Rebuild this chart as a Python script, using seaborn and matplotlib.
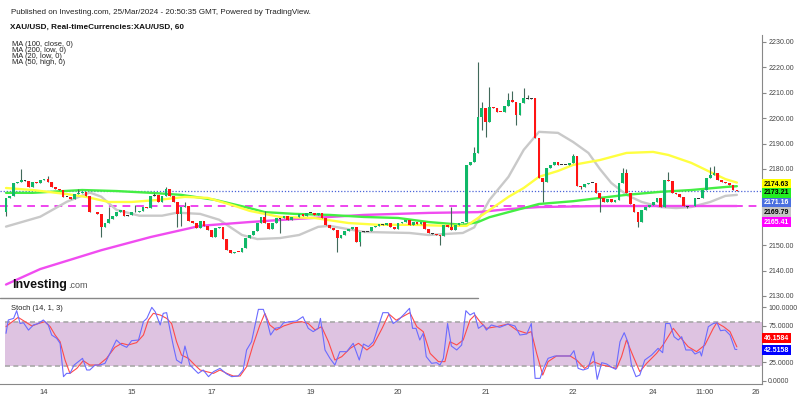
import matplotlib.pyplot as plt
import pandas as pd
import seaborn as sns

# XAU/USD hourly closes, 13-25 Mar 2024 (bar index 0..192)
closes = [
    2168.5, 2169.5, 2174.3, 2175.0, 2175.5, 2175.3, 2173.0, 2175.0, 2174.5, 2175.5,
    2176.2, 2174.8, 2173.0, 2172.0, 2171.6, 2169.1, 2169.0, 2168.0, 2170.0, 2170.5,
    2171.0, 2169.2, 2163.0, 2163.1, 2162.3, 2157.3, 2158.6, 2160.3, 2161.5, 2163.2,
    2163.8, 2161.6, 2161.7, 2163.0, 2163.1, 2163.5, 2165.0, 2164.5, 2169.5, 2169.6,
    2167.0, 2169.5, 2172.0, 2169.4, 2166.8, 2162.3, 2165.0, 2165.5, 2159.5, 2158.6,
    2156.7, 2159.6, 2157.6, 2156.0, 2153.4, 2156.7, 2157.0, 2152.3, 2148.1, 2146.8,
    2147.5, 2147.2, 2148.8, 2152.7, 2154.0, 2155.5, 2158.6, 2161.2, 2158.6, 2156.3,
    2158.9, 2160.6, 2160.5, 2161.3, 2159.8, 2161.0, 2161.2, 2162.3, 2161.4, 2162.8,
    2162.7, 2161.9, 2162.6, 2160.8, 2158.0, 2156.7, 2156.0, 2152.7, 2154.0, 2155.6,
    2156.5, 2157.3, 2151.4, 2155.3, 2155.5, 2155.4, 2157.1, 2157.5, 2158.2, 2158.1,
    2158.9, 2157.3, 2156.4, 2158.9, 2159.3, 2160.0, 2158.0, 2159.0, 2158.3, 2159.0,
    2156.3, 2154.7, 2154.5, 2154.0, 2153.6, 2158.0, 2157.3, 2156.0, 2158.0, 2158.8,
    2159.3, 2181.6, 2182.9, 2186.2, 2200.6, 2203.9, 2198.6, 2204.5, 2203.9, 2202.6,
    2202.3, 2204.8, 2207.2, 2206.5, 2201.3, 2205.9, 2207.8, 2207.7, 2207.9, 2192.1,
    2176.3, 2175.0, 2180.3, 2181.6, 2182.9, 2181.6, 2181.6, 2181.7, 2182.3, 2185.2,
    2173.3, 2172.9, 2173.9, 2174.5, 2174.6, 2170.4, 2168.5, 2166.8, 2168.1, 2167.0,
    2167.6, 2174.4, 2178.3, 2170.4, 2166.2, 2163.2, 2159.3, 2163.9, 2164.9, 2165.8,
    2167.1, 2168.4, 2165.2, 2175.7, 2175.4, 2170.4, 2170.0, 2169.1, 2165.4, 2165.3,
    2165.5, 2168.4, 2168.5, 2171.7, 2176.3, 2177.6, 2178.3, 2175.7, 2175.0, 2174.4,
    2173.5, 2171.8, 2171.16,
]
first_open = 2163.0
wick_high = {4: 2180.0, 11: 2177.3, 19: 2172.0, 27: 2165.2, 34: 2165.8, 39: 2170.5,
             42: 2173.0, 47: 2166.8, 68: 2163.5, 72: 2160.8, 117: 2165.2, 123: 2188.8,
             124: 2222.2, 125: 2206.5, 127: 2212.4, 132: 2210.0, 133: 2210.5,
             136: 2211.8, 137: 2209.0, 149: 2186.0, 162: 2180.3, 163: 2180.0,
             174: 2178.6, 185: 2180.9, 186: 2181.0}
wick_low = {0: 2161.5, 25: 2153.1, 45: 2157.3, 46: 2157.5, 72: 2154.7, 87: 2147.5,
            93: 2149.5, 114: 2150.0, 125: 2195.4, 126: 2192.7, 134: 2197.3,
            141: 2167.0, 151: 2172.0, 156: 2163.2, 166: 2157.3, 179: 2164.5}

# moving averages (yellow MA50 high, green MA100 close, gray MA20 low, magenta MA200 low)
ma50_bars = [0, 7, 16, 21, 27, 33, 40, 47, 53, 60, 64, 72, 81, 90, 98, 107, 116, 121,
             124, 132, 136, 140, 145, 149, 156, 163, 170, 174, 180, 185, 189, 192]
ma50_high = [2172.5, 2171.7, 2170.1, 2169.0, 2167.0, 2167.0, 2167.8, 2169.0, 2168.6,
             2165.5, 2163.5, 2161.1, 2160.7, 2158.7, 2158.0, 2158.0, 2157.6, 2157.6,
             2160.7, 2169.0, 2172.5, 2176.9, 2179.2, 2181.6, 2183.5, 2186.3, 2186.7,
             2185.5, 2182.4, 2178.8, 2176.0, 2174.63]
ma100_bars = [0, 7, 20, 29, 38, 46, 55, 64, 68, 76, 85, 94, 103, 111, 120, 124, 127,
              132, 140, 149, 156, 163, 172, 180, 189, 192]
ma100_close = [2170.6, 2170.6, 2171.7, 2171.3, 2170.6, 2169.8, 2167.8, 2164.6, 2163.0,
               2162.3, 2161.9, 2161.1, 2160.7, 2159.1, 2158.0, 2159.1, 2161.0, 2163.0,
               2166.2, 2167.3, 2168.6, 2169.8, 2171.0, 2171.7, 2172.9, 2173.21]
ma20_bars = [0, 9, 16, 22, 25, 29, 35, 41, 45, 51, 56, 62, 66, 72, 77, 82, 85, 88, 94,
             106, 111, 120, 123, 127, 132, 136, 140, 145, 149, 153, 156, 159, 163, 167,
             172, 176, 180, 185, 189, 192]
ma20_low = [2157.3, 2161.2, 2167.1, 2170.7, 2169.1, 2163.9, 2161.6, 2161.6, 2162.8,
            2162.3, 2160.0, 2154.0, 2152.4, 2152.8, 2154.0, 2157.2, 2157.6, 2156.8,
            2155.2, 2154.8, 2154.0, 2154.8, 2157.0, 2167.8, 2176.9, 2187.5, 2194.6,
            2194.2, 2190.6, 2186.3, 2180.0, 2174.5, 2169.8, 2167.0, 2165.0, 2164.6,
            2165.0, 2167.0, 2169.4, 2169.79]
ma200_bars = [0, 9, 25, 38, 51, 64, 76, 94, 111, 124, 132, 140, 156, 192]
ma200_low = [2134.5, 2140.6, 2148.0, 2153.2, 2157.6, 2159.1, 2160.3, 2161.9, 2162.7,
             2163.0, 2164.2, 2165.0, 2165.4, 2165.41]

last_price = 2171.16

# Stoch (14, 1, 3): %K blue, %D red
stoch_k_bars = [0, 0.6, 2, 2.8, 3.7, 4.6, 5.9, 7.2, 8.5, 9.8, 11.1, 12, 13.3, 14.2, 15.1,
                15.9, 16.8, 17.9, 19, 20.1, 21.2, 22, 23.4, 24.7, 26, 27.3, 29, 30.4, 31.7,
                33, 34.8, 36.1, 37, 38.3, 39.2, 40.5, 41.3, 42.2, 43.1, 44, 44.8, 46.1, 47,
                48.3, 49.2, 50.5, 51.8, 53.2, 54.5, 56.2, 58, 59.3, 61, 62.3, 63.2, 64.5,
                66.3, 67.6, 68.5, 69.5, 70.7, 72, 72.9, 74.6, 76.3, 78, 79.4, 80.7, 82,
                82.6, 83.8, 85.1, 86.4, 87.7, 89.5, 91.2, 92.8, 93.9, 95.2, 96.5, 97.8, 99,
                100.4, 101.7, 103.1, 104.8, 106, 106.8, 107.7, 108.7, 109.6, 110.4, 111.8,
                113.1, 114, 114.9, 116, 117, 118.4, 119.7, 120.8, 121.9, 123, 124.1, 125.4,
                126.2, 127.5, 129.7, 131.9, 133.7, 135, 136.8, 138, 139, 140.3, 141.2,
                142.4, 144.2, 146.4, 148.2, 149.2, 150.3, 151.6, 152.9, 154.3, 155.3,
                156.5, 157.8, 159.1, 160.2, 161.3, 162.4, 163.5, 164.3, 165.5, 166.5,
                167.8, 169.6, 171.3, 172.5, 173.3, 174.4, 175.5, 176.6, 177.5, 178.6,
                180.1, 181, 182.3, 182.7, 184.5, 185.8, 186.8, 187.7, 188.9, 190.2, 191.5,
                192]
stoch_k = [64.6, 82.8, 85, 95.5, 78, 79, 69, 76, 78, 82.8, 76, 62.3, 57.8, 51, 5.5,
           10, 10, 21.4, 26, 30.5, 14.6, 14.6, 21.4, 21.4, 23.7, 37.3, 55.5, 48.7, 45.5,
           54.6, 55.5, 80.5, 85, 100, 94, 76, 91.9, 92.8, 69, 46.4, 28.2, 23.7, 47.3,
           21.4, 16.8, 10, 14.6, 5.5, 12.3, 16.8, 9.1, 5.5, 6.4, 14.6, 41.9, 53.2,
           97.3, 97.3, 82.8, 62.3, 71.4, 72.8, 79, 80.5, 81.4, 87.3, 71.4, 66.9, 71.4,
           85, 41.9, 30.5, 21.4, 39.6, 39.6, 51, 28.2, 50, 46.4, 53.2, 73.7, 92.8,
           92.8, 78, 82.8, 91.9, 98.7, 71.4, 71.4, 55.5, 64.6, 32.8, 23.7,
           24.6, 21.4, 30.5, 78, 47.3, 41.9, 48.7, 95.5, 89.6, 92.8, 71.4, 76,
           69, 76, 72.8, 77.3, 74.6, 62.3, 63.7, 78, 3.2, 3.2, 16.8,
           30.5, 33.7, 33.7, 33.7, 41, 16.8, 14.6, 16.8, 39.6, 1.8,
           24.6, 22.8, 18.2, 15.5, 53.2, 65.5, 51, 21.4, 5.5, 7.7,
           28.2, 35, 44.1, 38.2, 78, 78, 60, 55.5, 60, 41.9,
           41.9, 36.4, 39.6, 33.7, 73.7, 78, 79, 68.2, 69.1, 62.3, 42.8,
           42.5158]
stoch_d_bars = [0, 1, 3.2, 5, 6.8, 8.5, 10.2, 11.6, 12.9, 14.2, 15.5, 16.8, 18.6, 20.3,
                22, 24.3, 26.4, 28.6, 30.4, 32.1, 34.3, 36.1, 37.4, 38.7, 40.5, 42.2, 43.5,
                44.8, 46.1, 47.9, 49.6, 51, 52.7, 54.5, 56.2, 58, 59.7, 61.5, 63.2, 64.9,
                66.7, 68, 69.3, 71, 72.9, 75.5, 77.7, 79.4, 81.2, 82.9, 84.7, 86.4, 88.2,
                90.4, 92.6, 94.8, 96.5, 98.8, 100.6, 102.5, 106.1, 107.9, 109.6, 111.4,
                113.6, 115.3, 116.6, 118.4, 120.1, 121.9, 123.2, 124.5, 126.2, 128.9,
                131.9, 134.1, 136.8, 138, 139.4, 141, 142.4, 144.6, 148.2, 149.9, 152,
                154.3, 156.5, 158.7, 160.4, 161.7, 163, 164.8, 166.5, 168.3, 170.9, 172.6,
                175.3, 177, 179.2, 181.4, 183.6, 185.8, 186.7, 188.5, 190.2, 192]
stoch_d = [73.7, 78, 86.4, 80.5, 74.6, 78, 80.5, 73.7, 62.3, 53.2, 28.2, 10, 16.8, 27.3,
           21.4, 21.4, 30.5, 45.5, 51, 48.7, 51.9, 62.3, 82.8, 91.9, 89.6, 85, 78,
           53.2, 35, 30.5, 21.4, 14.6, 12.3, 10, 14.6, 10, 6.4, 6.4, 19.1, 48.7,
           76, 91.9, 76, 69.1, 74.6, 79, 80.5, 78, 69.1, 73.7, 53.2, 28.2, 32.8,
           44.1, 51, 41.9, 48.7, 71.4, 91, 82.5, 92.8, 73.7, 66.9, 37.3,
           26, 26, 53.2, 48.7, 55.5, 82.8, 89.6, 80.5, 71.4, 73.7,
           77.3, 69.1, 64.6, 66.9, 37.3, 7.7, 26, 33.7, 33.7, 28.2, 16.8,
           26, 21.4, 19.1, 16.8, 32.8, 55.5, 32.8, 12.3, 23.7, 37.3, 48.7,
           71.4, 60, 46.4, 39.6, 48.7, 71.4, 79, 73.7, 66.9, 46.1584]

date_ticks = [10, 33, 54, 80, 103, 126, 149, 170, 183.6, 197]
date_labels = ['14', '15', '17', '19', '20', '21', '22', '24', '11:00', '26']
price_ticks = [2130, 2140, 2150, 2180, 2190, 2200, 2210, 2220, 2230]
stoch_ticks = [0, 25, 75, 100]

sns.set_style('white')
plt.rcParams['font.family'] = ['Liberation Sans', 'DejaVu Sans']

candles = pd.DataFrame({'bar': range(len(closes)), 'close': closes})
candles['open'] = [first_open] + closes[:-1]
candles['high'] = candles[['open', 'close']].max(axis=1)
candles['low'] = candles[['open', 'close']].min(axis=1)
for k, v in wick_high.items():
    candles.loc[k, 'high'] = v
for k, v in wick_low.items():
    candles.loc[k, 'low'] = v
diff = candles['close'] - candles['open']
candles['col'] = '#10b868'
candles.loc[diff < 0, 'col'] = '#ff1414'
candles.loc[diff.abs() < 0.25, 'col'] = '#333333'
body = diff.abs().clip(lower=0.35)
mid = (candles['open'] + candles['close']) / 2

fig = plt.figure(figsize=(8, 3.99), dpi=100)
ax = fig.add_axes([0, 101 / 399, 762 / 800, 298 / 399])
ax2 = fig.add_axes([0, 15 / 399, 762 / 800, 86 / 399])

ax.axhline(last_price, color='#4a63d8', ls=(0, (1, 1.5)), lw=0.9, zorder=1)
ax.axhline(ma200_low[-1], color='#ee44ee', ls=(0, (4, 3)), lw=1.4, zorder=1)

ma_lines = [(ma20_bars, ma20_low, '#c9c9c9'), (ma200_bars, ma200_low, '#f04cf0'),
            (ma100_bars, ma100_close, '#44ee44'), (ma50_bars, ma50_high, '#ffff40')]
for bars, vals, col in ma_lines:
    sns.lineplot(x=bars, y=vals, ax=ax, color=col, lw=1.7, zorder=2, legend=False)

ax.vlines(candles['bar'], candles['low'], candles['high'], color='#41695a', lw=0.8,
          zorder=3)
ax.bar(candles['bar'], body, bottom=mid - body / 2, width=0.72, color=candles['col'],
       linewidth=0, zorder=4)

ax.set_xlim(-1.58, 198.6)
ax.set_ylim(2129.2, 2246.5)
ax.set_xticks([])
ax.yaxis.tick_right()
ax.set_yticks(price_ticks)
ax.set_yticklabels([f'{p:.2f}' for p in price_ticks])
ax.tick_params(axis='y', direction='out', length=3, width=0.8, colors='#888888',
               labelcolor='#444444', labelsize=5, pad=1.5)
ax.set_xlabel('')
ax.set_ylabel('')
for s in ['top', 'left', 'bottom']:
    ax.spines[s].set_visible(False)
ax.spines['right'].set_color('#888888')
ax.spines['right'].set_bounds(2129.2, 2232.8)

# stochastic panel
ax2.axhspan(20, 80, xmin=5 / 762, color='#dec3e1', lw=0, zorder=0)
for lvl in (20, 80):
    ax2.axhline(lvl, xmin=5 / 762, color='#a8a8a8', ls=(0, (3, 2)), lw=1.2, zorder=1)
sns.lineplot(x=stoch_d_bars, y=stoch_d, ax=ax2, color='#ff4a4a', lw=0.8, legend=False)
sns.lineplot(x=stoch_k_bars, y=stoch_k, ax=ax2, color='#6b6bff', lw=0.8, legend=False)
ax2.set_xlim(-1.58, 198.6)
ax2.set_ylim(-4.5, 112.8)
ax2.set_xticks(date_ticks)
ax2.set_xticklabels(date_labels)
ax2.yaxis.tick_right()
ax2.set_yticks(stoch_ticks)
ax2.set_yticklabels([f'{v:.4f}' for v in stoch_ticks])
ax2.tick_params(axis='y', direction='out', length=3, width=0.8, colors='#888888',
                labelcolor='#444444', labelsize=5, pad=1.5)
ax2.tick_params(axis='x', direction='out', length=2, width=0.8, colors='#888888',
                labelcolor='#444444', labelsize=5.5, pad=1.5)
ax2.set_xlabel('')
ax2.set_ylabel('')
for s in ['top', 'left']:
    ax2.spines[s].set_visible(False)
for s in ['right', 'bottom']:
    ax2.spines[s].set_color('#888888')
ax2.axhline(112.8, xmax=478 / 762, color='#888888', lw=1, clip_on=False)

# header and labels
fig.text(11 / 800, 1 - 12 / 399,
         'Published on Investing.com, 25/Mar/2024 - 20:50:35 GMT, Powered by TradingView.',
         fontsize=5.8, color='#222222', va='center')
fig.text(10 / 800, 1 - 27 / 399, 'XAU/USD, Real-timeCurrencies:XAU/USD, 60',
         fontsize=5.85, fontweight='bold', color='#111111', va='center')
for n, txt in enumerate(['MA (100, close, 0)', 'MA (200, low, 0)', 'MA (20, low, 0)',
                         'MA (50, high, 0)']):
    fig.text(12 / 800, 1 - (45 + 6 * n) / 399, txt, fontsize=5.4, color='#222222',
             va='center')
fig.text(12 / 800, 1 - 285 / 399, 'Investing', fontsize=9, fontweight='bold',
         color='#111111', va='center')
fig.text(68 / 800, 1 - 286 / 399, '.com', fontsize=6.5, color='#555555', va='center')
fig.text(11 / 800, 1 - 308 / 399, 'Stoch (14, 1, 3)', fontsize=5.4, color='#222222',
         va='center')

# last-value boxes on the right scale
boxes = [(184, ma50_high[-1], '#ffff00', 'black', 2),
         (193, ma100_close[-1], '#22ee22', 'black', 2),
         (203, last_price, '#4a6fe0', 'white', 2),
         (212, ma20_low[-1], '#c4c4c4', 'black', 2),
         (222, ma200_low[-1], '#ff00ff', 'white', 2),
         (338, stoch_d[-1], '#ff0000', 'white', 4),
         (350, stoch_k[-1], '#0000ff', 'white', 4)]
for yp, val, bg, fg, dec in boxes:
    fig.text(764 / 800, 1 - yp / 399, f'{val:.{dec}f}', fontsize=5, color=fg,
             fontweight='bold', va='center', ha='left',
             bbox=dict(boxstyle='square,pad=0.25', fc=bg, ec='none'))

fig.savefig('out.png', dpi=100)
